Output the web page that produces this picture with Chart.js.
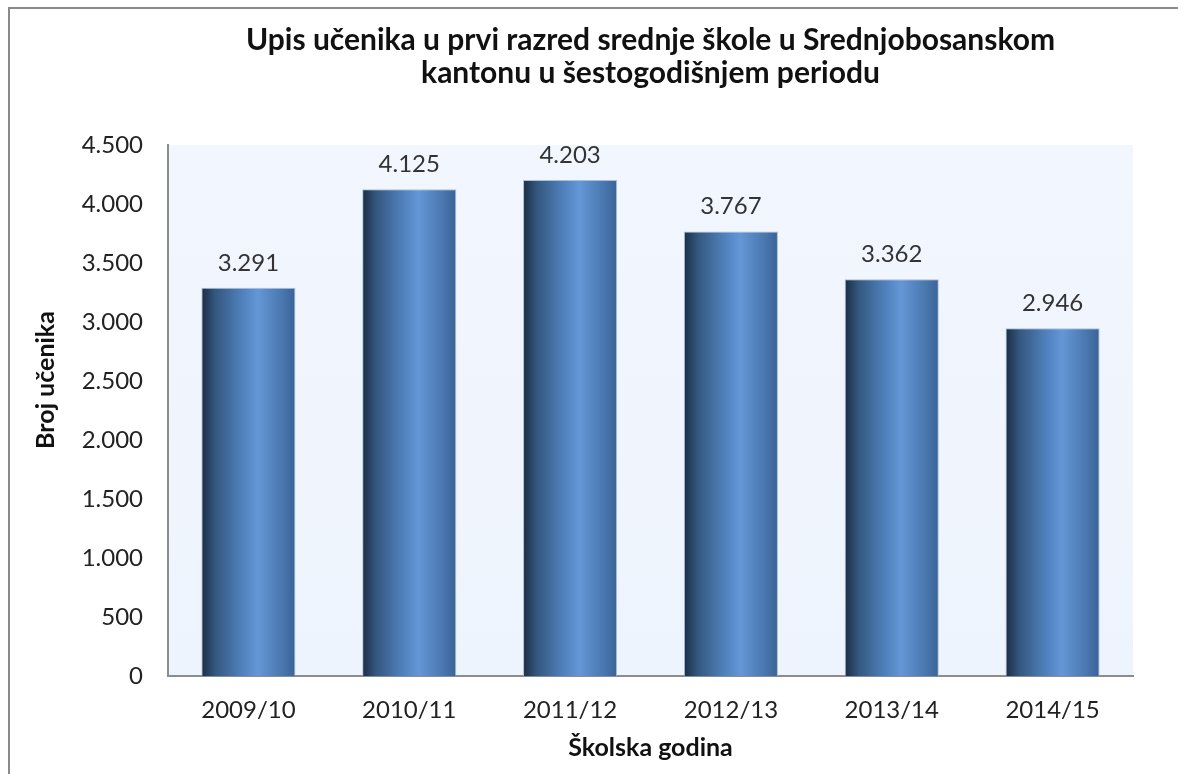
<!DOCTYPE html>
<html>
<head>
<meta charset="utf-8">
<script src="https://cdn.jsdelivr.net/npm/chart.js@4"></script>
<style>
  html, body { margin: 0; padding: 0; background: #ffffff; overflow: hidden; }
  #wrap { width: 1178px; height: 774px; overflow: hidden; }
  canvas { display: block; }
</style>
</head>
<body>
<div id="wrap"><canvas id="c" width="1178" height="774"></canvas></div>
<script>
const categories = ['2009/10', '2010/11', '2011/12', '2012/13', '2013/14', '2014/15'];
const enrolled = [3291, 4125, 4203, 3767, 3362, 2946];
const yTicks = [0, 500, 1000, 1500, 2000, 2500, 3000, 3500, 4000, 4500];
const titleLines = ['Upis učenika u prvi razred srednje škole u Srednjobosanskom', 'kantonu u šestogodišnjem periodu'];
const xTitle = 'Školska godina';
const yTitle = 'Broj učenika';

const FONT = 'Lato, "Open Sans", sans-serif';
const BAR_FRACTION = 0.585;

function fmt(v) {
  return String(v).replace(/\B(?=(\d{3})+(?!\d))/g, '.');
}

function barGradient(ctx) {
  const chart = ctx.chart;
  const xs = chart.scales.x;
  if (!chart.chartArea || !xs) return '#4f81bd';
  const cx = xs.getPixelForValue(ctx.dataIndex);
  const w = (xs.width / categories.length) * BAR_FRACTION;
  const g = chart.ctx.createLinearGradient(cx - w / 2, 0, cx + w / 2, 0);
  g.addColorStop(0, '#1b2c45');
  g.addColorStop(0.15, '#34587f');
  g.addColorStop(0.45, '#5283c0');
  g.addColorStop(0.6, '#6497d6');
  g.addColorStop(0.85, '#4a78b0');
  g.addColorStop(1, '#3a6396');
  return g;
}

const framePlugin = {
  id: 'frame',
  beforeDraw(chart) {
    const { ctx, chartArea: a } = chart;
    ctx.save();
    ctx.fillStyle = '#ffffff';
    ctx.fillRect(0, 0, chart.width, chart.height);
    const bg = ctx.createLinearGradient(0, a.top, 0, a.bottom);
    bg.addColorStop(0, '#f2f6fe');
    bg.addColorStop(1, '#eef4fd');
    ctx.fillStyle = bg;
    ctx.fillRect(a.left, a.top, a.right - a.left, a.bottom - a.top);
    ctx.strokeStyle = '#8a8a8a';
    ctx.lineWidth = 2;
    ctx.beginPath();
    ctx.moveTo(9, chart.height + 5);
    ctx.lineTo(9, 8);
    ctx.lineTo(chart.width + 5, 8);
    ctx.stroke();
    ctx.restore();
  },
  afterDraw(chart) {
    const { ctx } = chart;
    const meta = chart.getDatasetMeta(0);
    ctx.save();
    ctx.fillStyle = '#333333';
    ctx.font = '24px ' + FONT;
    ctx.textAlign = 'center';
    ctx.textBaseline = 'alphabetic';
    meta.data.forEach((bar, i) => {
      ctx.fillText(fmt(enrolled[i]), bar.x, bar.y - 17);
    });
    ctx.font = 'bold 25px ' + FONT;
    ctx.fillStyle = '#111111';
    ctx.translate(46, 380);
    ctx.rotate(-Math.PI / 2);
    ctx.textBaseline = 'middle';
    ctx.fillText(yTitle, 0, 0);
    ctx.restore();
  }
};

new Chart(document.getElementById('c'), {
  type: 'bar',
  data: {
    labels: categories,
    datasets: [{
      data: enrolled,
      backgroundColor: barGradient,
      borderColor: 'rgba(160,185,215,0.9)',
      borderWidth: 1,
      borderSkipped: 'bottom',
      categoryPercentage: 1,
      barPercentage: BAR_FRACTION
    }]
  },
  options: {
    responsive: false,
    animation: false,
    devicePixelRatio: 1,
    layout: { padding: { left: 12, right: 45, top: 24, bottom: 0 } },
    plugins: {
      legend: { display: false },
      tooltip: { enabled: false },
      title: {
        display: true,
        text: titleLines,
        fullSize: false,
        color: '#111111',
        font: { family: FONT, size: 30, weight: 'bold', lineHeight: 1.1 },
        padding: { top: 0, bottom: 55 }
      }
    },
    scales: {
      x: {
        grid: { display: false, drawTicks: false },
        border: { display: true, color: '#8c8c8c', width: 2 },
        ticks: { color: '#222222', font: { family: FONT, size: 24 }, padding: 20 },
        title: {
          display: true,
          text: xTitle,
          color: '#111111',
          font: { family: FONT, size: 25, weight: 'bold', lineHeight: 1.2 },
          padding: { top: 0, bottom: 11 }
        },
        afterFit(s) { s.height = 98; }
      },
      y: {
        min: 0,
        max: 4500,
        afterBuildTicks(s) { s.ticks = yTicks.map(v => ({ value: v })); },
        grid: { display: false, drawTicks: false },
        border: { display: true, color: '#8c8c8c', width: 2 },
        ticks: {
          color: '#222222',
          font: { family: FONT, size: 24 },
          padding: 25,
          callback: (v) => fmt(v)
        },
        afterFit(s) { s.width = 156; }
      }
    }
  },
  plugins: [framePlugin]
});
</script>
</body>
</html>
